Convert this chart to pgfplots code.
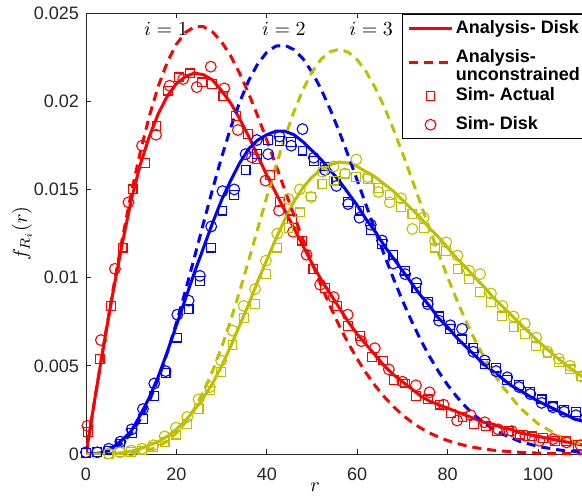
\documentclass[border=0pt]{standalone}
\usepackage[no-math]{fontspec}
\setmainfont{Liberation Sans}
\usepackage{pgfplots}
\pgfplotsset{compat=1.18}
\definecolor{myred}{rgb}{1,0,0}
\definecolor{myblue}{rgb}{0,0,1}
\definecolor{myyel}{rgb}{0.75,0.75,0}
\definecolor{axgray}{rgb}{0.15,0.15,0.15}
\begin{document}
\begin{tikzpicture}[trim left=-43pt, trim right=248pt]
\begin{axis}[
  at={(0,0)}, anchor=south west,
  scale only axis, width=271.2pt, height=220.5pt,
  xmin=0, xmax=120, ymin=0, ymax=0.025,
  xtick={0,20,40,60,80,100}, xticklabels={0,20,40,60,80,100},
  ytick={0,0.005,0.01,0.015,0.02,0.025},
  yticklabels={0,0.005,0.01,0.015,0.02,0.025},
  scaled y ticks=false,
  tick align=inside, major tick length=2.5pt,
  axis line style={axgray, line width=0.5pt},
  every tick/.style={axgray, line width=0.5pt},
  tick label style={font=\fontsize{9}{10}\selectfont, text=axgray},
  xticklabel style={yshift=-3.5pt},
  xlabel={$r$}, ylabel={$f_{R_i}(r)$},
  every axis x label/.style={at={(axis description cs:0.4225,-0.075)}, anchor=center, inner sep=0pt},
  every axis y label/.style={at={(axis description cs:-0.118,0.5)}, rotate=90, anchor=center, inner sep=0pt},
  legend image code/.code={\draw[mark repeat=2,mark phase=2,#1] plot coordinates {(0pt,0pt) (10.75pt,0pt) (21.5pt,0pt)};},
  legend style={at={(axis description cs:0.5826,0.997)}, anchor=north west,
    font=\bfseries\fontsize{9}{10}\selectfont, draw=black, line width=0.5pt, fill=white,
    inner xsep=2.5pt, inner ysep=1.5pt, row sep=4pt, cells={anchor=west},
    nodes={inner sep=1.2pt}},
  clip=true,
]
\addlegendimage{myred, line width=1.5pt}
\addlegendentry{Analysis- Disk}
\addlegendimage{myred, line width=1.5pt, dash pattern=on 4.5pt off 3pt}
\addlegendentry{{\fontsize{9}{9}\selectfont\begin{tabular}{@{}l@{\hspace*{20pt}}}Analysis-\\unconstrained\end{tabular}}}
\addlegendimage{myred, only marks, mark=square, mark size=2.2pt, mark options={line width=0.55pt}}
\addlegendentry{Sim- Actual}
\addlegendimage{myred, only marks, mark=o, mark size=2.7pt, mark options={line width=0.55pt}}
\addlegendentry{Sim- Disk}

\pgfplotsset{sq/.style={only marks, mark=square, mark size=2.2pt, mark options={line width=0.55pt}, forget plot},
             ci/.style={only marks, mark=o, mark size=2.7pt, mark options={line width=0.55pt}, forget plot}}
\addplot[myred, sq] coordinates {(0.4,0.00125)(3.0,0.0054)(5.6,0.0084)(8.1,0.0117)(10.3,0.0150)(13.0,0.0165)(15.6,0.0186)(18.2,0.0206)(20.5,0.02135)(23.0,0.02158)(25.6,0.02107)(27.9,0.02098)(30.4,0.02031)(33.2,0.01918)(35.8,0.01814)(37.8,0.01672)(40.7,0.0158)(42.9,0.01427)(45.5,0.0133)(47.8,0.0121)(50.3,0.0105)(52.9,0.0094)(55.5,0.0084)(58.0,0.00727)(60.6,0.0067)(63.3,0.0055)(65.8,0.0053)(68.2,0.0042)(70.5,0.0040)(73.0,0.0033)(75.6,0.0031)(78.2,0.0028)(80.7,0.0023)(83.3,0.0021)(85.8,0.0017)(88.4,0.0016)(90.9,0.0013)(93.5,0.0013)(96.0,0.0011)(98.6,0.0010)(101.1,0.0009)(103.7,0.00075)(106.2,0.00075)(108.8,0.0005)(111.3,0.0005)};
\addplot[myred, ci] coordinates {(0.3,0.0016)(3.3,0.00646)(6.4,0.0105)(9.4,0.01427)(12.4,0.01748)(15.5,0.0181)(18.5,0.02088)(21.5,0.02126)(24.5,0.0208)(27.6,0.02196)(30.6,0.02073)(33.6,0.01837)(36.7,0.01682)(39.7,0.0155)(42.7,0.0138)(45.8,0.0126)(48.8,0.0113)(51.8,0.0096)(54.8,0.0089)(57.9,0.0079)(60.9,0.0064)(63.9,0.0060)(67.0,0.0048)(70.0,0.0041)(73.0,0.0039)(76.0,0.0035)(79.1,0.0028)(82.1,0.0019)(85.1,0.0022)(88.2,0.0018)(91.2,0.0014)(94.2,0.0013)(97.2,0.00104)(100.3,0.00075)(103.3,0.00085)(106.3,0.00066)(109.4,0.0005)};
\addplot[myblue, sq] coordinates {(0,0.00005)(2.5,0.0001)(5.0,0.0002)(7.6,0.0006)(10.1,0.0012)(12.6,0.0020)(15.1,0.0033)(17.6,0.0046)(20.2,0.0066)(22.7,0.0082)(25.2,0.0098)(27.7,0.0117)(30.2,0.0138)(32.8,0.0147)(35.3,0.0161)(37.8,0.0170)(40.3,0.0178)(42.8,0.01776)(45.4,0.0177)(47.9,0.0172)(50.4,0.0166)(52.9,0.0163)(55.4,0.0155)(58.0,0.0143)(60.5,0.0138)(63.0,0.0127)(65.5,0.0119)(68.0,0.0113)(70.6,0.0104)(73.1,0.0094)(75.6,0.0086)(78.1,0.0078)(80.6,0.0071)(83.2,0.0065)(85.7,0.0060)(88.2,0.0051)(90.7,0.0049)(93.2,0.0042)(95.8,0.0039)(98.3,0.0035)(100.8,0.0031)(103.3,0.0027)(105.8,0.0025)(108.4,0.0024)(110.9,0.0020)};
\addplot[myblue, ci] coordinates {(0,0.0001)(2.5,0.0001)(5.0,0.0003)(7.6,0.0007)(10.1,0.0014)(12.6,0.00255)(15.1,0.0040)(17.6,0.0047)(20.2,0.0079)(22.7,0.0087)(25.2,0.0101)(27.7,0.0129)(30.2,0.0149)(32.8,0.0150)(35.3,0.0170)(37.8,0.0178)(40.3,0.0170)(42.8,0.0180)(45.4,0.01748)(47.9,0.01842)(50.4,0.0168)(52.9,0.0161)(55.4,0.0152)(58.0,0.01417)(60.5,0.0134)(63.0,0.0130)(65.5,0.0121)(68.0,0.0108)(70.6,0.0102)(73.1,0.0097)(75.6,0.0085)(78.1,0.00756)(80.6,0.0073)(83.2,0.0071)(85.7,0.0058)(88.2,0.0053)(90.7,0.0047)(93.2,0.00435)(95.8,0.0038)(98.3,0.0034)(100.8,0.0029)(103.3,0.00265)(105.8,0.0024)(108.4,0.0022)(110.9,0.0019)};
\addplot[myyel, sq] coordinates {(5.0,0)(7.5,0.0001)(10.0,0.0001)(12.4,0.0002)(14.9,0.0004)(17.4,0.0007)(19.9,0.0011)(22.4,0.0017)(24.9,0.00255)(27.4,0.0036)(29.9,0.00465)(32.4,0.0062)(34.9,0.0077)(37.4,0.0085)(39.8,0.0102)(42.3,0.0117)(44.8,0.0128)(47.3,0.0137)(49.8,0.0146)(52.3,0.0153)(54.8,0.0155)(57.3,0.0159)(59.8,0.0157)(62.3,0.0156)(64.7,0.0151)(67.2,0.0147)(69.7,0.0140)(72.2,0.0136)(74.7,0.0128)(77.2,0.0117)(79.7,0.0115)(82.2,0.0105)(84.7,0.0099)(87.2,0.0092)(89.6,0.0086)(92.1,0.0078)(94.6,0.0072)(97.1,0.0068)(99.6,0.0061)(102.1,0.0057)(104.6,0.0052)(107.1,0.0048)(109.6,0.0044)};
\addplot[myyel, ci] coordinates {(5.0,0.00003)(7.5,0.0001)(10.0,0.0002)(12.4,0.0003)(14.9,0.0005)(17.4,0.0010)(19.9,0.0015)(22.4,0.0021)(24.9,0.0031)(27.4,0.0038)(29.9,0.0053)(32.4,0.0070)(34.9,0.0084)(37.4,0.00935)(39.8,0.01096)(42.3,0.0125)(44.8,0.01445)(47.3,0.0150)(49.8,0.01457)(52.3,0.0160)(54.8,0.0163)(57.3,0.0159)(59.8,0.0167)(62.3,0.0157)(64.7,0.01485)(67.2,0.01427)(69.7,0.0145)(72.2,0.01276)(74.7,0.0134)(77.2,0.0121)(79.7,0.0120)(82.2,0.01125)(84.7,0.0104)(87.2,0.0102)(89.6,0.0091)(92.1,0.0084)(94.6,0.0078)(97.1,0.0074)(99.6,0.0066)(102.1,0.0058)(104.6,0.0054)(107.1,0.0050)(109.6,0.0044)};

\addplot[myred, line width=1.5pt, forget plot] coordinates {(0,0)(2,0.0032)(4,0.0063)(6,0.0092)(8,0.0119)(10,0.0144)(12,0.0164)(14,0.0180)(16,0.0193)(18,0.0203)(20,0.0210)(22,0.0214)(24,0.0216)(26,0.0215)(28,0.0212)(30,0.0206)(32,0.0199)(34,0.0190)(36,0.0180)(38,0.0169)(40,0.0158)(42,0.0148)(44,0.0138)(46,0.0128)(48,0.0118)(50,0.0108)(52,0.0099)(54,0.0091)(56,0.0083)(58,0.0075)(60,0.0068)(62,0.0062)(64,0.0056)(66,0.0050)(68,0.0045)(70,0.0041)(72,0.0037)(74,0.0033)(76,0.0030)(78,0.0028)(80,0.0026)(82,0.0024)(84,0.0022)(86,0.0020)(88,0.0018)(90,0.0017)(92,0.0015)(94,0.0014)(96,0.0012)(98,0.0011)(100,0.0010)(102,0.0009)(104,0.0008)(106,0.0007)(108,0.0006)(110,0.0005)(114,0.0004)(118,0.0003)(120,0.0003)};
\addplot[myblue, line width=1.5pt, forget plot] coordinates {(0,0)(2,0.00002)(4,0.0001)(6,0.0004)(8,0.0008)(10,0.0013)(12,0.0022)(14,0.0032)(16,0.0044)(18,0.0058)(20,0.0073)(22,0.0088)(24,0.0103)(26,0.0117)(28,0.0131)(30,0.0144)(32,0.0155)(34,0.0165)(36,0.0173)(38,0.0178)(40,0.0181)(42,0.0183)(44,0.0183)(46,0.0181)(48,0.0177)(50,0.0172)(52,0.0167)(54,0.0161)(56,0.0155)(58,0.0148)(60,0.0141)(62,0.0133)(64,0.0126)(66,0.0118)(68,0.0111)(70,0.0104)(72,0.0097)(74,0.0090)(76,0.0084)(78,0.0077)(80,0.0072)(82,0.0066)(84,0.0061)(86,0.0056)(88,0.0051)(90,0.0047)(92,0.0043)(94,0.0039)(96,0.0036)(98,0.0033)(100,0.0030)(104,0.0025)(108,0.0020)(112,0.0017)(116,0.0014)(120,0.0011)};
\addplot[myyel, line width=1.5pt, forget plot] coordinates {(0,0)(4,0.00001)(6,0.00003)(8,0.00007)(10,0.00015)(12,0.0003)(14,0.0005)(16,0.0007)(18,0.0010)(20,0.0014)(22,0.0019)(24,0.0025)(26,0.0032)(28,0.0040)(30,0.0050)(32,0.0061)(34,0.0073)(36,0.0085)(38,0.0098)(40,0.0110)(42,0.0122)(44,0.0133)(46,0.0143)(48,0.0151)(50,0.0157)(52,0.0161)(54,0.0164)(56,0.01655)(58,0.0165)(60,0.0163)(62,0.0160)(64,0.0157)(66,0.0153)(68,0.0149)(70,0.0144)(72,0.0139)(74,0.0134)(76,0.0128)(78,0.0123)(80,0.0117)(82,0.0111)(84,0.0106)(86,0.0100)(88,0.0095)(90,0.0089)(92,0.0084)(94,0.0079)(96,0.0074)(98,0.0069)(100,0.0064)(104,0.0055)(108,0.0047)(112,0.0040)(116,0.0034)(120,0.0028)};

\addplot[myred, line width=1.5pt, dash pattern=on 4.5pt off 3pt, forget plot] coordinates {(0,0)(2,0.003190)(4,0.006319)(6,0.009327)(8,0.012161)(10,0.014770)(12,0.017111)(14,0.019149)(16,0.020859)(18,0.022224)(20,0.023237)(22,0.023900)(24,0.024222)(26,0.024223)(28,0.023928)(30,0.023364)(32,0.022569)(34,0.021577)(36,0.020426)(38,0.019153)(40,0.017795)(42,0.016387)(44,0.014961)(46,0.013543)(48,0.012159)(50,0.010827)(52,0.009566)(54,0.008382)(56,0.007290)(58,0.006292)(60,0.005388)(62,0.004582)(64,0.003866)(66,0.003239)(68,0.002693)(70,0.002222)(72,0.001821)(74,0.001481)(76,0.001197)(78,0.000960)(80,0.000765)(82,0.000605)(84,0.000475)(86,0.000371)(88,0.000287)(90,0.000221)(92,0.000169)(96,0.0000965)(100,0.0000537)(105,0.0000248)(110,0.000011)(120,0.0000019)};
\addplot[myblue, line width=1.5pt, dash pattern=on 4.5pt off 3pt, forget plot] coordinates {(0,0)(2,0.0000102)(4,0.0000809)(6,0.0002686)(8,0.0006226)(10,0.0011816)(12,0.0019712)(14,0.0030026)(16,0.0042719)(18,0.0057605)(20,0.0074358)(22,0.0092541)(24,0.0111615)(26,0.0131)(28,0.0150076)(30,0.0168221)(32,0.0184885)(34,0.0199544)(36,0.0211777)(38,0.0221255)(40,0.0227776)(42,0.0231253)(44,0.0231716)(46,0.0229256)(48,0.0224115)(50,0.021654)(52,0.0206932)(54,0.019553)(56,0.0182892)(58,0.016933)(60,0.0155174)(62,0.0140906)(64,0.0126681)(66,0.0112873)(68,0.0099619)(70,0.0087102)(72,0.007552)(74,0.006488)(76,0.0055311)(78,0.0046725)(80,0.0039168)(82,0.003255)(84,0.0026813)(86,0.002193)(88,0.001778)(90,0.0014314)(92,0.0011443)(96,0.0007115)(100,0.0004296)(105,0.0002187)(110,0.0001065)(120,0.0000219)};
\addplot[myyel, line width=1.5pt, dash pattern=on 4.5pt off 3pt, forget plot] coordinates {(0,0)(4,0.0000005)(6,0.0000039)(8,0.0000159)(10,0.0000473)(12,0.0001135)(14,0.0002354)(16,0.0004374)(18,0.0007466)(20,0.0011897)(22,0.0017916)(24,0.0025716)(26,0.0035422)(28,0.0047064)(30,0.006056)(32,0.0075729)(34,0.0092269)(36,0.0109785)(38,0.0127797)(40,0.0145777)(42,0.0163172)(44,0.0179441)(46,0.0194042)(48,0.0206544)(50,0.021654)(52,0.0223818)(54,0.0228066)(56,0.022942)(58,0.022785)(60,0.0223451)(62,0.0216657)(64,0.0207554)(66,0.019667)(68,0.0184255)(70,0.017072)(72,0.0156598)(74,0.0142113)(76,0.0127791)(78,0.011371)(80,0.010027)(82,0.008755)(84,0.0075677)(86,0.006487)(88,0.0055075)(90,0.0046378)(92,0.0038742)(96,0.0026229)(100,0.0017184)(105,0.0009645)(110,0.0005155)(115,0.000261)(120,0.000126)};

\node[font=\normalsize] at (axis cs:17.7,0.0241) {$i=1$};
\node[font=\normalsize] at (axis cs:43.8,0.0241) {$i=2$};
\node[font=\normalsize] at (axis cs:63.1,0.0241) {$i=3$};
\end{axis}
\path (0,-21pt) (0,225pt);
\end{tikzpicture}
\end{document}
